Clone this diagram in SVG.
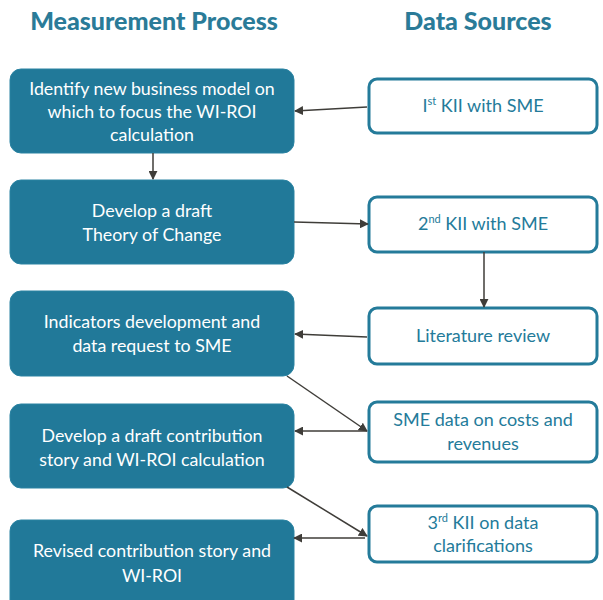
<svg xmlns="http://www.w3.org/2000/svg" width="603" height="600" viewBox="0 0 603 600">
<style>
.title{font-family:Lato,"Liberation Sans",sans-serif;font-weight:900;font-size:25px;fill:#2a7b98;text-anchor:middle}
.proc rect{fill:#217999;stroke:#2a83a2;stroke-width:1}
.proc text{font-family:Lato,"Open Sans","Liberation Sans",sans-serif;font-size:17.8px;fill:#ffffff;text-anchor:middle}
.src rect{fill:#ffffff;stroke:#247b9a;stroke-width:3}
.src text{font-family:Lato,"Open Sans","Liberation Sans",sans-serif;font-size:18px;fill:#247b9a;text-anchor:middle}
.sup{font-size:11px}
#connectors line{stroke:#3f3d39;stroke-width:1.5;marker-end:url(#arr)}
</style>
<defs>
<marker id="arr" viewBox="0 0 10 10" refX="9" refY="5" markerWidth="9" markerHeight="9" markerUnits="userSpaceOnUse" orient="auto">
<path d="M0,0 L10,5 L0,10 z" fill="#3f3d39"/>
</marker>
</defs>
<rect width="603" height="600" fill="#ffffff"/>
<text class="title" x="154" y="30">Measurement Process</text>
<text class="title" x="478" y="30">Data Sources</text>

<g id="p1" class="proc"><rect x="10" y="69" width="284" height="84" rx="11"/>
<text x="152" y="95">Identify new business model on</text>
<text x="152" y="118">which to focus the WI-ROI</text>
<text x="152" y="141">calculation</text></g>
<g id="p2" class="proc"><rect x="10" y="180" width="284" height="84" rx="11"/>
<text x="152" y="217">Develop a draft</text>
<text x="152" y="241">Theory of Change</text></g>
<g id="p3" class="proc"><rect x="10" y="291" width="284" height="85" rx="11"/>
<text x="152" y="328">Indicators development and</text>
<text x="152" y="352">data request to SME</text></g>
<g id="p4" class="proc"><rect x="10" y="404" width="284" height="84" rx="11"/>
<text x="152" y="442">Develop a draft contribution</text>
<text x="152" y="466">story and WI-ROI calculation</text></g>
<g id="p5" class="proc"><rect x="10" y="520" width="284" height="92" rx="11"/>
<text x="152" y="557">Revised contribution story and</text>
<text x="152" y="582">WI-ROI</text></g>

<g id="s1" class="src"><rect x="369" y="79" width="228" height="54" rx="8"/>
<text x="483" y="112">I<tspan class="sup" dy="-7">st</tspan><tspan dy="7"> KII with SME</tspan></text></g>
<g id="s2" class="src"><rect x="369" y="197" width="228" height="55" rx="8"/>
<text x="483" y="230">2<tspan class="sup" dy="-7">nd</tspan><tspan dy="7"> KII with SME</tspan></text></g>
<g id="s3" class="src"><rect x="369" y="308" width="228" height="56" rx="8"/>
<text x="483" y="342">Literature review</text></g>
<g id="s4" class="src"><rect x="369" y="402" width="228" height="60" rx="8"/>
<text x="483" y="426">SME data on costs and</text>
<text x="483" y="450">revenues</text></g>
<g id="s5" class="src"><rect x="369" y="506" width="228" height="56" rx="8"/>
<text x="483" y="529">3<tspan class="sup" dy="-7">rd</tspan><tspan dy="7"> KII on data</tspan></text>
<text x="483" y="552">clarifications</text></g>

<g id="connectors">
<line x1="367" y1="107" x2="295" y2="111"/>
<line x1="153" y1="153" x2="153" y2="179"/>
<line x1="294" y1="222" x2="368" y2="224"/>
<line x1="484" y1="252" x2="484" y2="307"/>
<line x1="367" y1="337" x2="295" y2="334"/>
<line x1="287" y1="376" x2="367" y2="431"/>
<line x1="367" y1="431" x2="295" y2="431"/>
<line x1="287" y1="487" x2="367" y2="536"/>
<line x1="365" y1="538" x2="294" y2="538"/>
</g>
</svg>
